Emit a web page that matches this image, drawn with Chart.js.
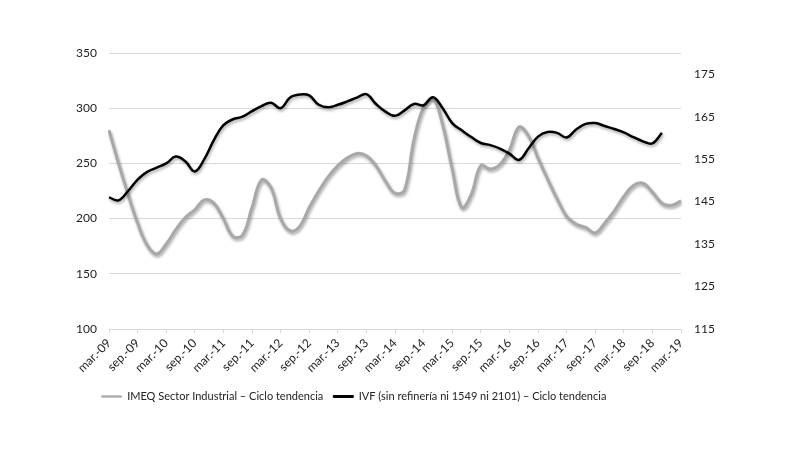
<!DOCTYPE html>
<html lang="es">
<head>
<meta charset="utf-8">
<title>IMEQ vs IVF</title>
<script src="https://cdn.jsdelivr.net/npm/chart.js@4.4.1/dist/chart.umd.min.js"></script>
<style>
    html, body { margin: 0; padding: 0; background: #ffffff; }
    #wrap { width: 800px; height: 449px; }
</style>
</head>
<body>
<div id="wrap"><canvas id="chart" width="800" height="449"></canvas></div>
<script>
// Bimonthly periods, mar-09 .. mar-19
const periods = [
    "mar.-09", "may.-09", "jul.-09", "sep.-09", "nov.-09", "ene.-10",
    "mar.-10", "may.-10", "jul.-10", "sep.-10", "nov.-10", "ene.-11",
    "mar.-11", "may.-11", "jul.-11", "sep.-11", "nov.-11", "ene.-12",
    "mar.-12", "may.-12", "jul.-12", "sep.-12", "nov.-12", "ene.-13",
    "mar.-13", "may.-13", "jul.-13", "sep.-13", "nov.-13", "ene.-14",
    "mar.-14", "may.-14", "jul.-14", "sep.-14", "nov.-14", "ene.-15",
    "mar.-15", "may.-15", "jul.-15", "sep.-15", "nov.-15", "ene.-16",
    "mar.-16", "may.-16", "jul.-16", "sep.-16", "nov.-16", "ene.-17",
    "mar.-17", "may.-17", "jul.-17", "sep.-17", "nov.-17", "ene.-18",
    "mar.-18", "may.-18", "jul.-18", "sep.-18", "nov.-18", "ene.-19",
    "mar.-19"
];

// IMEQ Sector Industrial (left axis)
const imeq = [
    280, 250, 222, 196, 176, 168,
    177, 190, 201, 208, 217, 214,
    200, 184, 185, 210, 235, 228,
    200, 189, 193, 210, 225, 238,
    248, 255, 259, 257, 248, 234,
    223, 226, 272, 301, 309, 285,
    245, 210, 222, 248, 245, 249,
    262, 283, 275, 255, 236, 218,
    202, 195, 192, 187, 196, 207,
    220, 230, 232, 224, 214, 212,
    216
];

// IVF sin refinería (right axis)
const ivf = [
    146.0, 145.3, 147.5, 150.2, 152.0, 153.0,
    154.0, 155.6, 154.5, 152.1, 155.0, 159.5,
    163.0, 164.4, 165.0, 166.3, 167.5, 168.3,
    167.0, 169.5, 170.2, 170.0, 167.8, 167.2,
    167.8, 168.6, 169.5, 170.3, 168.0, 166.2,
    165.2, 166.5, 168.0, 167.7, 169.6, 167.0,
    163.5, 161.8, 160.2, 158.8, 158.3, 157.5,
    156.3, 154.8, 157.5, 160.3, 161.4, 161.2,
    160.1, 162.0, 163.3, 163.5, 162.8, 162.1,
    161.3, 160.2, 159.2, 158.7, 161.2, null,
    null
];

const leftTicks = [100, 150, 200, 250, 300, 350];
const rightTicks = [115, 125, 135, 145, 155, 165, 175];

const seriesNames = [
    "IMEQ Sector Industrial – Ciclo tendencia",
    "IVF (sin refinería ni 1549 ni 2101) – Ciclo tendencia"
];

document.addEventListener("DOMContentLoaded", function () {

    const FONT = "Lato, 'Open Sans', sans-serif";
    const GRID = "#d9d9d9";

    // Soft drop shadow under each line, like the original
    const shadowPlugin = {
        id: "lineShadow",
        beforeDatasetDraw(chart) {
            const ctx = chart.ctx;
            ctx.save();
            ctx.shadowColor = "rgba(0,0,0,0.35)";
            ctx.shadowBlur = 3;
            ctx.shadowOffsetX = 1;
            ctx.shadowOffsetY = 2;
        },
        afterDatasetDraw(chart) {
            chart.ctx.restore();
        }
    };

    // The original legend sits left of centre
    const legendShift = {
        id: "legendShift",
        afterLayout(chart) {
            chart.legend.left -= 46;
            chart.legend.right -= 46;
        }
    };

    new Chart(document.getElementById("chart"), {
        type: "line",
        data: {
            labels: periods,
            datasets: [
                {
                    label: seriesNames[0],
                    data: imeq,
                    yAxisID: "y",
                    borderColor: "#a8a8a8",
                    backgroundColor: "#a8a8a8",
                    borderWidth: 3,
                    pointRadius: 0,
                    tension: 0.4,
                    order: 1
                },
                {
                    label: seriesNames[1],
                    data: ivf,
                    yAxisID: "y2",
                    borderColor: "#000000",
                    backgroundColor: "#000000",
                    borderWidth: 2.5,
                    pointRadius: 0,
                    tension: 0.4,
                    spanGaps: false,
                    order: 0
                }
            ]
        },
        options: {
            responsive: false,
            animation: false,
            layout: { padding: { top: 53, left: 0, right: 0, bottom: 37 } },
            plugins: {
                tooltip: { enabled: false },
                legend: {
                    position: "bottom",
                    labels: {
                        sort: (a, b) => a.datasetIndex - b.datasetIndex,
                        boxWidth: 20,
                        boxHeight: 2,
                        padding: 10,
                        color: "#222",
                        font: { family: FONT, size: 11 },
                        generateLabels: function (chart) {
                            const items = Chart.defaults.plugins.legend.labels.generateLabels(chart);
                            items.forEach(it => { it.lineWidth = it.datasetIndex === 0 ? 0.3 : 1; });
                            return items;
                        }
                    }
                }
            },
            scales: {
                x: {
                    ticks: {
                        autoSkip: false,
                        maxRotation: 45,
                        minRotation: 45,
                        padding: 3,
                        color: "#222",
                        font: { family: FONT, size: 12 },
                        callback: function (value, index) {
                            const lab = periods[index];
                            return (lab.startsWith("mar") || lab.startsWith("sep")) ? lab : null;
                        }
                    },
                    grid: { drawOnChartArea: false, drawTicks: true, tickLength: 4, color: GRID },
                    border: { color: GRID },
                    afterFit: (scale) => { scale.height = 52; }
                },
                y: {
                    position: "left",
                    min: 100,
                    max: 350,
                    afterBuildTicks: (scale) => { scale.ticks = leftTicks.map(v => ({ value: v })); },
                    ticks: { padding: 12, color: "#222", font: { family: FONT, size: 12 } },
                    grid: { color: GRID, drawTicks: false },
                    border: { display: false },
                    afterFit: (scale) => { scale.width = 109; }
                },
                y2: {
                    position: "right",
                    min: 115,
                    max: 180,
                    afterBuildTicks: (scale) => { scale.ticks = rightTicks.map(v => ({ value: v })); },
                    ticks: { padding: 13, color: "#222", font: { family: FONT, size: 12 } },
                    grid: { display: false, drawTicks: false },
                    border: { display: false },
                    afterFit: (scale) => { scale.width = 119; }
                }
            }
        },
        plugins: [shadowPlugin, legendShift]
    });
});
</script>
</body>
</html>
